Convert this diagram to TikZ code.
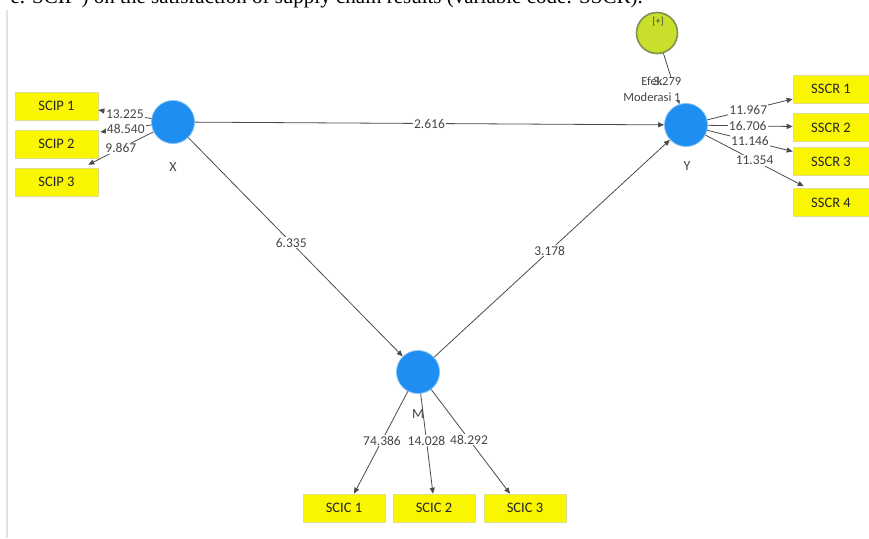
\documentclass[tikz,border=0pt]{standalone}
\usepackage{fontspec}
\setmainfont{Liberation Serif}
\newfontfamily\carl{Carlito}
\usetikzlibrary{arrows.meta}
\definecolor{lvblue}{RGB}{30,142,240}
\definecolor{boxyel}{RGB}{250,246,0}
\definecolor{boxedge}{RGB}{222,222,140}
\definecolor{modgreen}{RGB}{202,222,44}
\definecolor{modring}{RGB}{128,146,82}
\definecolor{edgegray}{RGB}{75,75,75}
\definecolor{labgray}{RGB}{70,70,70}
\definecolor{framegray}{RGB}{225,225,225}
\begin{document}
\begin{tikzpicture}[x=1pt,y=-1pt,
  latent/.style={circle,fill=lvblue,draw=lvblue!55!white,line width=0.8pt,minimum size=43pt,inner sep=0pt},
  modvar/.style={circle,fill=modgreen,draw=modring,line width=1.6pt,minimum size=41pt,inner sep=0pt},
  indbox/.style={rectangle,fill=boxyel,draw=boxedge,line width=0.6pt,minimum width=82pt,minimum height=28pt,inner sep=0pt,font=\carl\fontsize{14.5}{16}\selectfont,text=black!85},
  conn/.style={draw=edgegray,line width=0.8pt,-{Triangle[length=6pt,width=5pt]}},
  elab/.style={fill=white,inner sep=1pt,font=\carl\fontsize{13.5}{15}\selectfont,text=labgray},
  vname/.style={font=\carl\fontsize{14}{15}\selectfont,text=labgray}
]
\useasboundingbox (0,0) rectangle (869,538);
\fill[white] (0,0) rectangle (869,538);
% caption line cut off at the top
\node[anchor=base east,inner sep=0pt,font=\fontsize{21}{24}\selectfont] (cap) at (643,3) {e. SCIP ) on the satisfaction of supply chain results (variable code: SSCR).};
% frame line
\coordinate (ft) at (7,10);
\coordinate (fb) at (7,538);
\draw[framegray,line width=1.4pt] (ft) -- (fb);

% latent variables
\node[latent] (X) at (173,122) {};
\node[latent] (Y) at (686,125) {};
\node[latent] (M) at (418,372) {};
\node[modvar] (E) at (657,33) {};
\node[font=\carl\fontsize{10}{11}\selectfont,text=black!75] (plus) at (658,22) {[+]};
\node[vname] (xl) at (173,167) {X};
\node[vname] (yl) at (687,166) {Y};
\node[vname] (ml) at (418,414) {M};

% indicator boxes
\node[indbox,minimum width=83pt] (s1) at (56.5,106) {SCIP 1};
\node[indbox,minimum width=83pt] (s2) at (56.5,144) {SCIP 2};
\node[indbox,minimum width=83pt] (s3) at (56.5,182) {SCIP 3};
\node[indbox,minimum width=76pt] (r1) at (831,89) {SSCR 1};
\node[indbox,minimum width=76pt] (r2) at (831,127.5) {SSCR 2};
\node[indbox,minimum width=76pt] (r3) at (831,161.5) {SSCR 3};
\node[indbox,minimum width=76pt] (r4) at (831,202.5) {SSCR 4};
\node[indbox] (c1) at (344,508) {SCIC 1};
\node[indbox] (c2) at (434,508) {SCIC 2};
\node[indbox] (c3) at (525,508) {SCIC 3};

% structural paths
\draw[conn] (X) -- node[elab,pos=0.5]{2.616} (Y);
\draw[conn] (X) -- node[elab,pos=0.48]{6.335} (M);
\draw[conn] (M) -- node[elab,pos=0.49]{3.178} (Y);
\draw[conn] (E) -- (Y);
\node[fill=white,inner sep=0pt,align=center,font=\carl\fontsize{12.5}{16}\selectfont,text=labgray] (el) at (652,89) {Efek\\Moderasi 1};
\node[font=\carl\fontsize{12.5}{15}\selectfont,text=labgray] (ev) at (667,81) {3.279};

% outer model X
\draw[conn] (X) -- node[elab,pos=0.5]{13.225} ([yshift=-4pt]s1.east);
\draw[conn] (X) -- node[elab,pos=0.5]{48.540} ([xshift=2pt,yshift=12pt]s2.east);
\draw[conn] (X) -- node[elab,pos=0.5]{9.867} ([xshift=-10pt,yshift=3pt]s3.north east);

% outer model Y
\draw[conn] (Y) -- node[elab,pos=0.48]{11.967} ([yshift=-10pt]r1.west);
\draw[conn] (Y) -- node[elab,pos=0.47]{16.706} ([yshift=1pt]r2.west);
\draw[conn] (Y) -- node[elab,pos=0.5]{11.146} ([yshift=10pt]r3.west);
\draw[conn] (Y) -- node[elab,pos=0.5]{11.354} ([xshift=11pt,yshift=2pt]r4.north west);

% outer model M
\draw[conn] (M) -- node[elab,pos=0.48]{74.386} ([xshift=10pt]c1.north);
\draw[conn] (M) -- node[elab,pos=0.47]{14.028} ([xshift=-1pt]c2.north);
\draw[conn] (M) -- node[elab,pos=0.48]{48.292} ([xshift=-15pt]c3.north);
\end{tikzpicture}
\end{document}
